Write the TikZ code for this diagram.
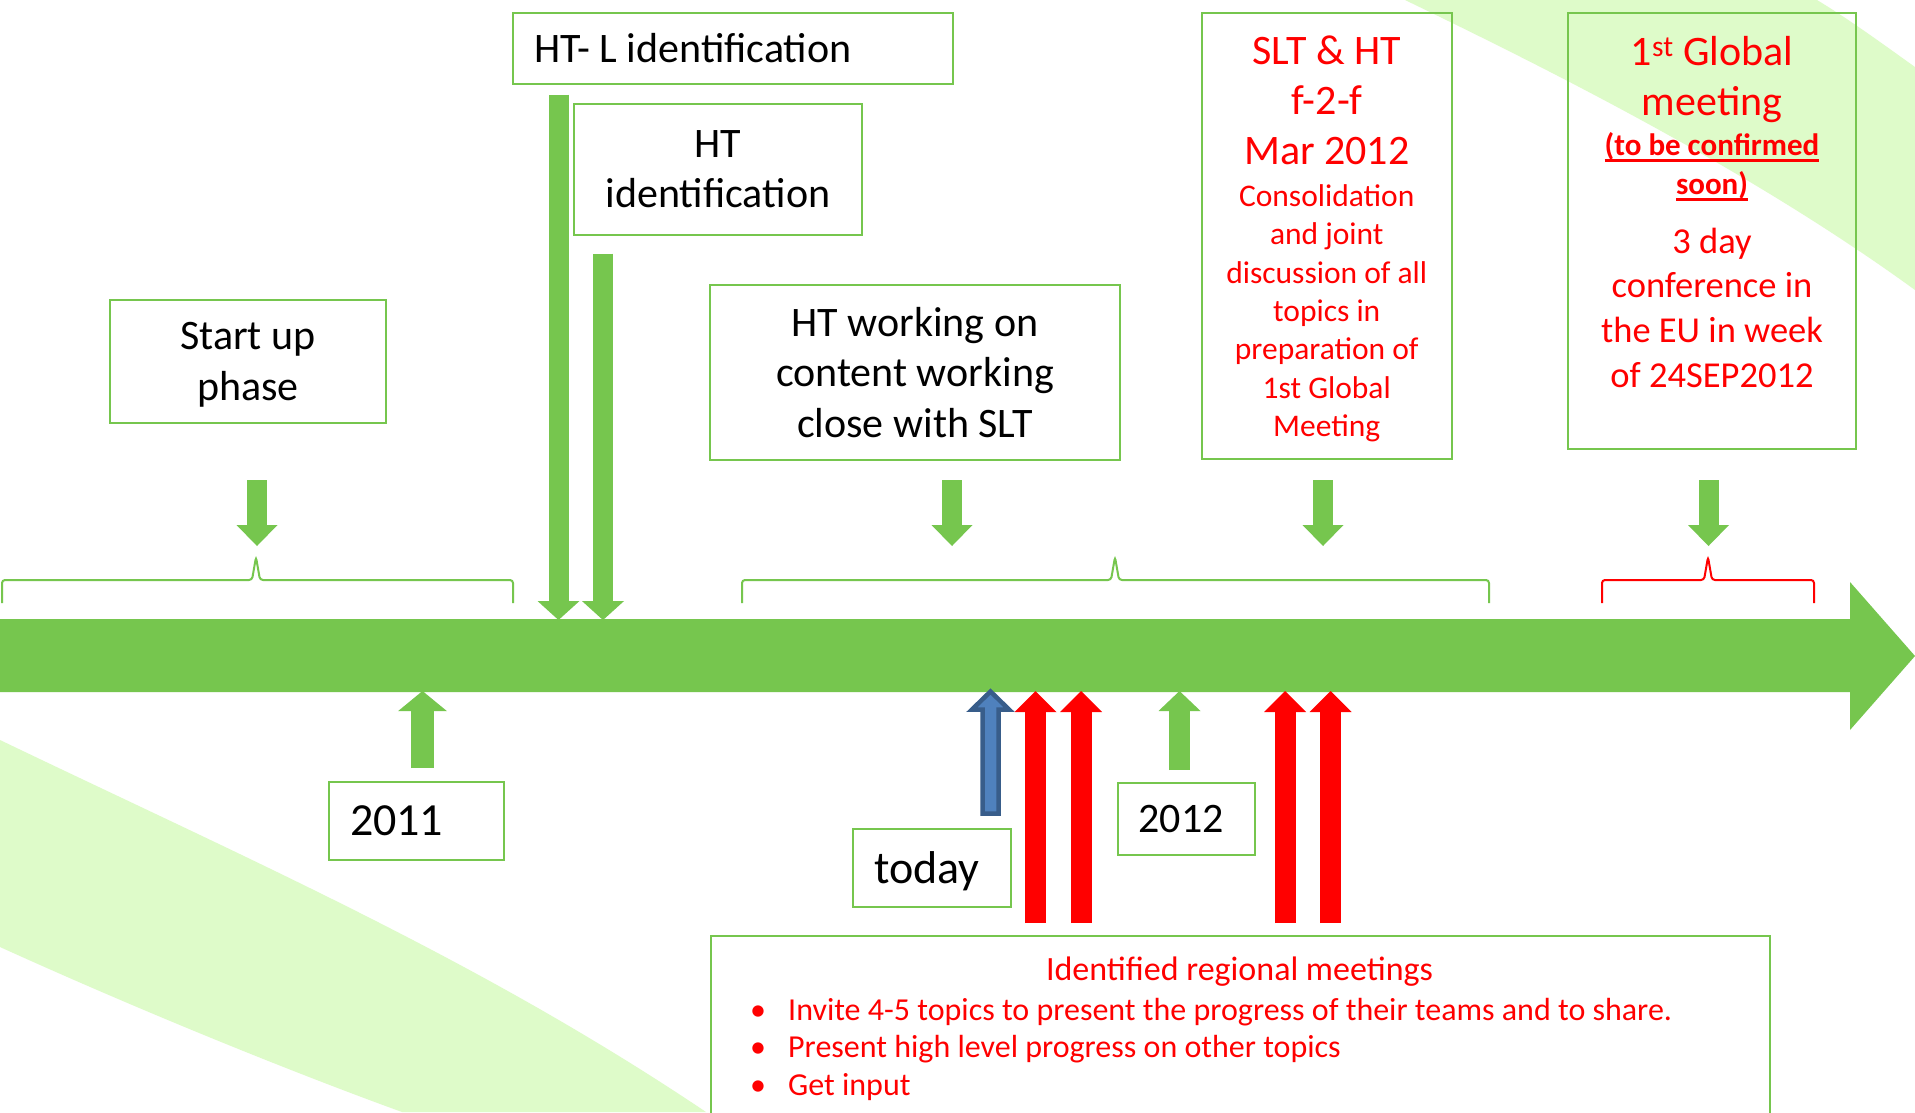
\documentclass[tikz,border=0pt]{standalone}
\usepackage{fontspec}
\setmainfont{Carlito}
\usetikzlibrary{arrows.meta}

\definecolor{tlgreen}{RGB}{118,198,78}
\definecolor{swoosh}{RGB}{222,251,201}
\definecolor{nowblue}{RGB}{79,129,189}
\definecolor{nowedge}{RGB}{56,93,138}
\definecolor{hired}{RGB}{255,0,0}

% font sizes
\newcommand\hdsize{\fontsize{42}{50.4}\selectfont}
\newcommand\mdsize{\fontsize{36.5}{44.6}\selectfont}
\newcommand\smsize{\fontsize{31.5}{38.4}\selectfont}
% thick underline
\newcommand\undl[2][-7pt]{\leavevmode\setbox0\hbox{#2}\rlap{\rule[#1]{\wd0}{3pt}}\box0}

\begin{document}
\begin{tikzpicture}[x=1pt, y=-1pt,
  tbox/.style={draw=tlgreen, line width=2pt, inner sep=0pt, align=flush center},
  brace/.style={draw=tlgreen, line width=2pt, rounded corners=3pt},
  drop/.style={draw=tlgreen, line width=20pt, -{Triangle[width=41pt,length=21pt,line width=0pt]}},
  longdrop/.style={drop, -{Triangle[width=42pt,length=19pt,line width=0pt]}},
  yearup/.style={drop, line width=21pt, -{Triangle[width=42pt,length=20pt,line width=0pt]}},
  meetup/.style={draw=hired, line width=21pt, -{Triangle[width=42pt,length=21pt,line width=0pt]}}]

\useasboundingbox (0,0) rectangle (1915,1112);
\clip (0,0) rectangle (1915,1112);
\fill[white] (0,0) rectangle (1915,1112);

% background swooshes
\fill[swoosh] (1405,0) .. controls (1550,70) and (1750,170) .. (1915,290)
  -- (1915,67) .. controls (1880,42) and (1850,20) .. (1817,0) -- cycle;
\fill[swoosh] (0,740) .. controls (250,860) and (480,960) .. (706,1112)
  -- (402,1112) .. controls (300,1075) and (150,1015) .. (0,947) -- cycle;

% time line
\fill[tlgreen] (0,619) -- (1850,619) -- (1850,582) -- (1915,656)
  -- (1850,730) -- (1850,692) -- (0,692) -- cycle;

% braces over the time line
\draw[brace] (2,603) -- (2,580) -- (252,580) -- (256,557) -- (260,580) -- (513,580) -- (513,603);
\draw[brace] (742,603) -- (742,580) -- (1111,580) -- (1115,557) -- (1119,580) -- (1489,580) -- (1489,603);
\draw[brace, draw=hired] (1602,603) -- (1602,580) -- (1704,580) -- (1708,557) -- (1712,580) -- (1814,580) -- (1814,603);

% boxes above
\node[tbox, minimum width=440pt, minimum height=71pt, text width=398pt, align=flush left, font=\hdsize] (htl) at (733,48.5) {HT- L identification};
\node[tbox, minimum width=288pt, minimum height=131.5pt, text width=260pt, font=\hdsize] (htid) at (718,169.3) {HT\\identification};
\node[tbox, minimum width=276pt, minimum height=123pt, text width=250pt, text depth=51pt, font=\hdsize] (startup) at (248,361.5) {Start up\\phase};
\node[tbox, minimum width=410pt, minimum height=175pt, text width=390pt, font=\hdsize] (htwork) at (915,372.5) {HT working on\\content working\\close with SLT};
\node[tbox, minimum width=249.5pt, minimum height=446pt, text width=240pt, text depth=372.5pt, text=hired] (slt) at (1326.75,236)
  {{\hdsize SLT \& HT\\ f-2-f\\ Mar 2012\par}\vspace{3pt}
   {\smsize Consolidation\\ and joint\\ discussion of all\\ topics in\\ preparation of\\ 1st Global\\ Meeting\par}};
\node[tbox, minimum width=288pt, minimum height=436pt] (meet) at (1712,231) {};
\node[text width=280pt, align=flush center, text=hired, inner sep=0pt, anchor=north] (meettxt) at ([yshift=-24pt]meet.north)
  {{\hdsize 1\textsuperscript{st} Global\\ meeting\par}
   {\fontsize{31}{39.5}\selectfont\bfseries \undl{(to be confirmed}\\ \undl[-6.5pt]{soon)}\par}\vspace{14pt}
   {\mdsize 3 day\\ conference in\\ the EU in week\\ of 24SEP2012\par}};

% boxes below
\node[tbox, minimum width=175pt, minimum height=78pt, text width=133pt, align=flush left, font=\fontsize{46}{55}\selectfont] (y2011) at (416.5,820.5) {2011};
\node[tbox, minimum width=158pt, minimum height=78pt, text width=116pt, text depth=0pt, align=flush left, font=\fontsize{46}{55}\selectfont] (today) at (932,868) {today};
\node[tbox, minimum width=137pt, minimum height=72pt, text width=96pt, align=flush left, font=\hdsize] (y2012) at (1186.5,819) {2012};
\node[tbox, anchor=north west, minimum width=1059pt, minimum height=230pt] (regional) at (710,935) {};
\node[anchor=base, text=hired, inner sep=0pt, font=\fontsize{34}{41}\selectfont] (regtitle) at (1239.5,980) {Identified regional meetings};
\node[anchor=north west, text=hired, inner sep=0pt, align=left, font=\fontsize{32}{37.5}\selectfont] (reglist) at (750,998)
  {\makebox[38pt][l]{\textbullet}Invite 4-5 topics to present the progress of their teams and to share.\\
   \makebox[38pt][l]{\textbullet}Present high level progress on other topics\\
   \makebox[38pt][l]{\textbullet}Get input};

% short arrows from the boxes down to the braces
\draw[drop] ([xshift=9pt,yshift=-56pt]startup.south) -- ++(0,66);
\draw[drop] ([xshift=37pt,yshift=-19pt]htwork.south) -- ++(0,66);
\draw[drop] ([xshift=-3.75pt,yshift=-20pt]slt.south) -- ++(0,66);
\draw[drop] ([xshift=-3.5pt,yshift=-30pt]meet.south) -- ++(0,66);

% long arrows onto the time line
\draw[longdrop] ([xshift=46.5pt,yshift=-9.6pt]htl.south west) -- ++(0,525.4);
\draw[longdrop] ([xshift=30pt,yshift=-17.5pt]htid.south west) -- ++(0,366.5);

% arrows from below
\draw[yearup, line width=23.5pt, -{Triangle[width=48.6pt,length=20pt,line width=0pt]}]
  ([xshift=6pt,yshift=12.5pt]y2011.north) -- ++(0,-77);
\draw[yearup] ([xshift=-7pt,yshift=12pt]y2012.north) -- ++(0,-79);
\foreach \dx in {325.5,371,575,620.5}
  \draw[meetup] ([xshift=\dx pt,yshift=12pt]regional.north west) -- ++(0,-232);
\filldraw[fill=nowblue, draw=nowedge, line width=4.5pt, line join=miter]
  ([xshift=58.5pt,yshift=136.5pt]today.north) -- ++(18.5,18) -- ++(-10.5,0) -- ++(0,104)
  -- ++(-16,0) -- ++(0,-104) -- ++(-10.5,0) -- cycle;

\end{tikzpicture}
\end{document}
